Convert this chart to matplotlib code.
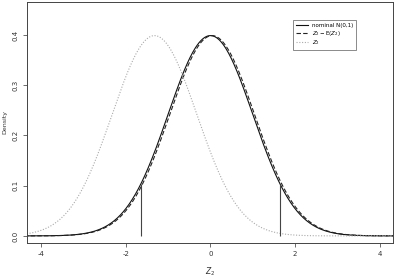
import numpy as np
import matplotlib
matplotlib.use("Agg")
import matplotlib.pyplot as plt

# Curves: (label, mean, sd, linestyle, colour)
labels = ["nominal N(0,1)", r"$Z_2-\mathrm{E}(Z_2)$", r"$Z_2$"]
means = [0.0, 0.04, -1.32]
sds = [1.0, 1.0, 1.0]
styles = ["-", (0, (4, 2)), (0, (1, 1.5))]
colors = ["#111111", "#222222", "#aaaaaa"]
widths = [0.8, 0.8, 0.8]
crit = [-1.645, 1.645]

xticks = [-4, -2, 0, 2, 4]
yticks = [0.0, 0.1, 0.2, 0.3, 0.4]

fig = plt.figure(figsize=(3.97, 2.77), dpi=100)
ax = fig.add_axes([0.068, 0.123, 0.922, 0.870])

x = np.linspace(-4.4, 4.4, 600)
def npdf(v, m, s):
    return np.exp(-0.5 * ((v - m) / s) ** 2) / (s * np.sqrt(2 * np.pi))

for lab, m, s, ls, c, w in zip(labels, means, sds, styles, colors, widths):
    ax.plot(x, npdf(x, m, s), linestyle=ls, color=c, lw=w, label=lab)

for cv in crit:
    ax.vlines(cv, 0, npdf(cv, 0, 1), color="#444444", lw=0.8)

ax.set_xlim(-4.33, 4.31)
ax.set_ylim(-0.014, 0.466)
ax.set_xticks(xticks)
ax.set_xticklabels([str(t) for t in xticks])
ax.set_yticks(yticks)
ax.set_yticklabels(["%.1f" % t for t in yticks], rotation=90, va="center")
ax.tick_params(labelsize=5, length=3, width=0.6, color="#555555", labelcolor="#333333", pad=3)
for sp in ax.spines.values():
    sp.set_linewidth(0.7)
    sp.set_color("#444444")
ax.set_xlabel(r"$Z_2$", fontsize=5.5, color="#333333", labelpad=6)
ax.set_ylabel("Density", fontsize=4.5, color="#333333", labelpad=4)

leg = ax.legend(loc="upper left", bbox_to_anchor=((293 - 27) / 366, (243 - 20) / 241),
                fontsize=4, frameon=True, fancybox=False, handlelength=2.2,
                borderpad=0.5, labelspacing=0.15, handletextpad=0.8, borderaxespad=0)
leg.get_frame().set_edgecolor("#555555")
leg.get_frame().set_linewidth(0.6)

fig.savefig("out.png", dpi=100)
